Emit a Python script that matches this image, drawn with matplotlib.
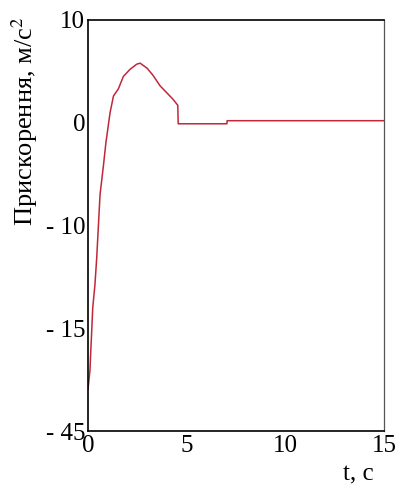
import numpy as np
import matplotlib
matplotlib.use("Agg")
import matplotlib.pyplot as plt

plt.rcParams['font.family'] = ['Liberation Serif', 'DejaVu Serif']
plt.rcParams['mathtext.fontset'] = 'stix'

# дані
t = [0.0, 0.1, 0.14, 0.19, 0.24, 0.35, 0.44, 0.61, 0.78, 0.91, 1.12, 1.29,
     1.54, 1.79, 2.13, 2.47, 2.64, 3.0, 3.3, 3.65, 4.0, 4.3, 4.55,
     4.57, 7.04, 7.05, 15.0]
a = [-32.8, -27.3, -21.7, -15.6, -14.0, -12.9, -11.6, -7.0, -4.2, -1.9, 1.0, 2.6,
     3.3, 4.5, 5.2, 5.7, 5.8, 5.3, 4.6, 3.6, 2.9, 2.3, 1.7,
     -0.1, -0.1, 0.2, 0.2]

xticks = [0, 5, 10, 15]
yticks = [-45, -15, -10, 0, 10]
ytick_labels = ['- 45', '- 15', '- 10', '0', '10']

# нелінійна вісь: мітки розташовані рівномірно
pos = np.arange(len(yticks), dtype=float)
def fwd(v):
    return np.interp(v, yticks, pos)
def inv(p):
    return np.interp(p, pos, yticks)

fig = plt.figure(figsize=(3.99, 4.87), dpi=100)
ax = fig.add_axes([88 / 399, 1 - 431 / 487, 296 / 399, 411 / 487])
ax.set_yscale('function', functions=(fwd, inv))

ax.plot(t, a, color='#c0283a', lw=1.1)

ax.set_xlim(0, 15)
ax.set_ylim(-45, 10)
ax.set_xticks(xticks)
ax.set_yticks(yticks)
ax.set_yticklabels(ytick_labels)
ax.minorticks_off()
ax.tick_params(length=0, labelsize=18, pad=2)
ax.tick_params(axis='x', pad=3)

for s in ['left', 'bottom', 'top']:
    ax.spines[s].set_linewidth(1.2)
ax.spines['right'].set_color('#555555')
ax.spines['right'].set_linewidth(0.9)

fig.text(25 / 399, 1 - 121 / 487, 'Прискорення, м/с$^2$', rotation=90,
         ha='center', va='center', fontsize=19)
fig.text(358 / 399, 1 - 474 / 487, 't, c', ha='center', va='center', fontsize=18)

fig.savefig('out.png', dpi=100)
